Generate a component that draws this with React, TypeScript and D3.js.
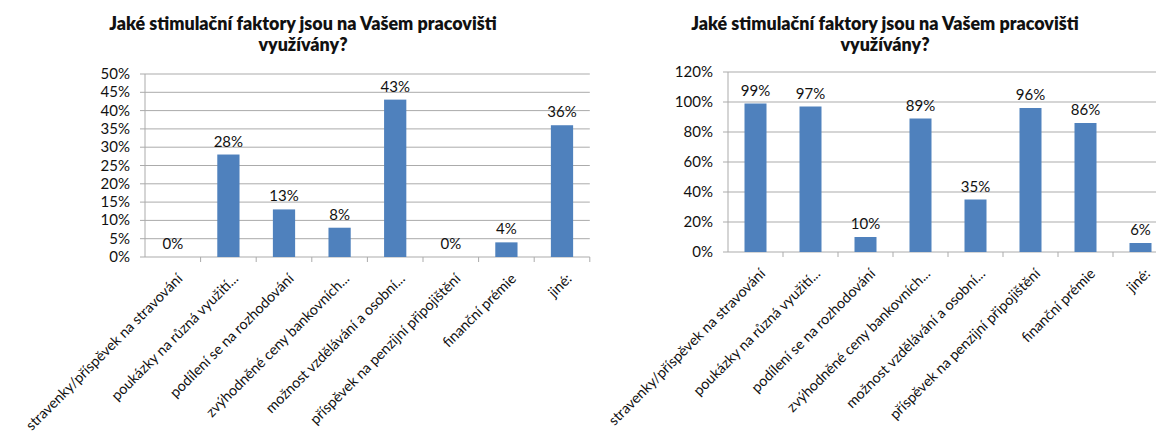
import React from "react";
import * as d3 from "d3";

const categories = [
  "stravenky/příspěvek na stravování",
  "poukázky na různá využití...",
  "podílení se na rozhodování",
  "zvýhodněné ceny bankovních...",
  "možnost vzdělávání a osobní...",
  "příspěvek na penzijní připojištění",
  "finanční prémie",
  "jiné:",
];
const titleLines = ["Jaké stimulační faktory jsou na Vašem pracovišti", "využívány?"];
const leftValues = [0, 28, 13, 8, 43, 0, 4, 36];
const rightValues = [99, 97, 10, 89, 35, 96, 86, 6];
const leftTicks = [0, 5, 10, 15, 20, 25, 30, 35, 40, 45, 50];
const rightTicks = [0, 20, 40, 60, 80, 100, 120];

const FONT = "Lato, 'Open Sans', sans-serif";
const BAR = "#4F81BD";
const GRID = "#ababab";

type ChartProps = {
  values: number[];
  ticks: number[];
  x0: number;
  step: number;
  y0: number;
  yTop: number;
  titleX: number;
  labelRight: number;
};

function Chart({ values, ticks, x0, step, y0, yTop, titleX, labelRight }: ChartProps) {
  const maxT = ticks[ticks.length - 1];
  const x1 = x0 + step * categories.length;
  const x = d3.scaleBand<string>().domain(categories).range([x0, x1]).paddingInner(0.6).paddingOuter(0.3);
  const xb = d3.scaleBand<string>().domain(categories).range([x0, x1]).padding(0);
  const y = d3.scaleLinear().domain([0, maxT]).range([y0, yTop]);
  return (
    <g>
      <text x={titleX} y={30} textAnchor="middle" fontFamily={FONT} fontWeight={800} fontSize={17.9} fill="#111">
        {titleLines[0]}
      </text>
      <text x={titleX} y={51} textAnchor="middle" fontFamily={FONT} fontWeight={800} fontSize={17.9} fill="#111">
        {titleLines[1]}
      </text>
      {ticks.map((t) => (
        <g key={t}>
          {t > 0 && <line x1={x0} x2={x1} y1={y(t)} y2={y(t)} stroke={GRID} strokeWidth={1} />}
          <line x1={x0 - 5} x2={x0} y1={y(t)} y2={y(t)} stroke={GRID} strokeWidth={1} />
          <text x={labelRight} y={y(t) + 5} textAnchor="end" fontFamily={FONT} fontSize={15} fill="#111">
            {t}%
          </text>
        </g>
      ))}
      <line x1={x0} x2={x0} y1={yTop} y2={y0} stroke={GRID} />
      <line x1={x0} x2={x1} y1={y0} y2={y0} stroke={GRID} />
      {categories.map((c, i) => (
        <line key={"tk" + i} x1={xb(c)! + step} x2={xb(c)! + step} y1={y0} y2={y0 + 5} stroke={GRID} />
      ))}
      {categories.map((c, i) => (
        <rect key={"b" + i} x={x(c)} width={x.bandwidth()} y={y(values[i])} height={y0 - y(values[i])} fill={BAR} />
      ))}
      {categories.map((c, i) => (
        <text
          key={"v" + i}
          x={x(c)! + x.bandwidth() / 2}
          y={y(values[i]) - 8}
          textAnchor="middle"
          fontFamily={FONT}
          fontSize={15}
          fill="#111"
        >
          {values[i]}%
        </text>
      ))}
      {categories.map((c, i) => {
        const cx = xb(c)! + step / 2;
        return (
          <text
            key={"l" + i}
            transform={`translate(${cx + 3},${y0 + 15}) rotate(-45)`}
            dy="0.75em"
            textAnchor="end"
            fontFamily={FONT}
            fontSize={14.4}
            fill="#111"
          >
            {c}
          </text>
        );
      })}
    </g>
  );
}

export default function App() {
  return (
    <svg width={1156} height={436} style={{ position: "absolute", left: 0, top: 0, background: "#fff" }}>
      <rect width={1156} height={436} fill="#fff" />
      <Chart values={leftValues} ticks={leftTicks} x0={145} step={55.6} y0={257} yTop={74} titleX={303} labelRight={130} />
      <Chart values={rightValues} ticks={rightTicks} x0={728} step={55} y0={252} yTop={72} titleX={885} labelRight={713} />
    </svg>
  );
}
